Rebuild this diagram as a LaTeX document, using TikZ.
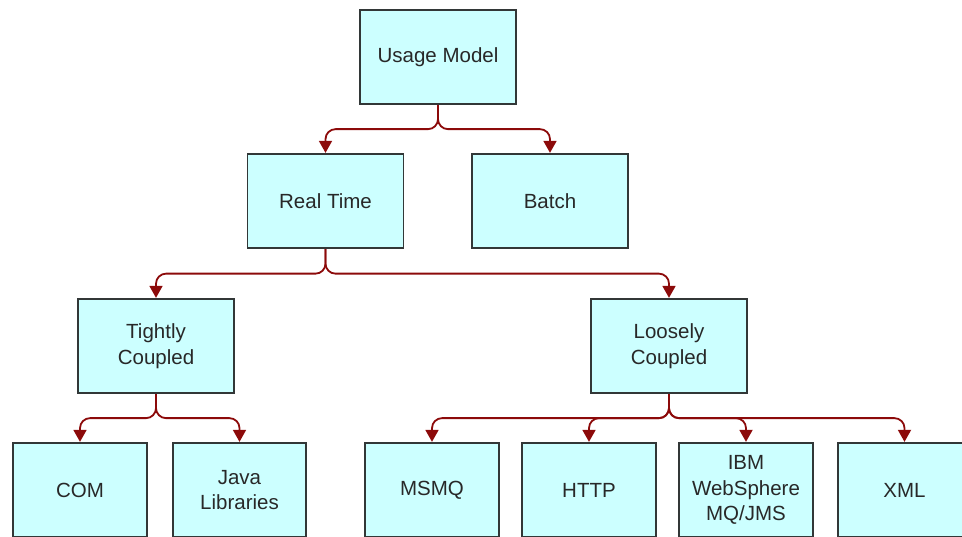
\documentclass[tikz,border=0pt]{standalone}
\usepackage{fontspec}
\setmainfont{Liberation Sans}
\usetikzlibrary{arrows.meta}
\definecolor{boxfill}{RGB}{204,255,255}
\definecolor{boxline}{RGB}{50,55,55}
\definecolor{txt}{RGB}{40,40,40}
\definecolor{conncol}{RGB}{140,10,10}
\tikzset{
  box/.style={draw=boxline, line width=1.8pt, fill=boxfill, minimum width=156pt, minimum height=94.5pt,
    align=center, inner sep=0pt, text=txt, font=\fontsize{20.5}{25.5}\selectfont},
  sbox/.style={box, minimum width=133.5pt},
  conn/.style={draw=conncol, line width=1.8pt, rounded corners=10pt,
    -{Triangle[width=13pt,length=12pt]}}
}
\begin{document}
\begin{tikzpicture}[x=1pt,y=-1pt]
\clip (0,0) rectangle (962,537);
\useasboundingbox (0,0) rectangle (962,537);
\node[box] (um) at (438,57) {Usage Model};
\node[box] (rt) at (325.5,201) {Real Time};
\node[box] (ba) at (550,201) {Batch};
\node[box] (tc) at (156,346) {Tightly\\Coupled};
\node[box] (lc) at (669,346) {Loosely\\Coupled};
\node[sbox] (com) at (80,490) {COM};
\node[sbox] (java) at (239.5,490) {Java\\Libraries};
\node[sbox] (msmq) at (432,490) {MSMQ};
\node[sbox] (http) at (589,490) {HTTP};
\node[sbox] (ibm) at (746,490) {IBM\\WebSphere\\MQ/JMS};
\node[sbox] (xml) at (904.5,490) {XML};
\draw[conn] (um.south) -- ++(0,24) -| (rt.north);
\draw[conn] (um.south) -- ++(0,24) -| (ba.north);
\draw[conn] (rt.south) -- ++(0,24.5) -| (tc.north);
\draw[conn] (rt.south) -- ++(0,24.5) -| (lc.north);
\draw[conn] (tc.south) -- ++(0,24) -| (com.north);
\draw[conn] (tc.south) -- ++(0,24) -| (java.north);
\draw[conn] (lc.south) -- ++(0,24) -| (msmq.north);
\draw[conn] (lc.south) -- ++(0,24) -| (http.north);
\draw[conn] (lc.south) -- ++(0,24) -| (ibm.north);
\draw[conn] (lc.south) -- ++(0,24) -| (xml.north);
\end{tikzpicture}
\end{document}
